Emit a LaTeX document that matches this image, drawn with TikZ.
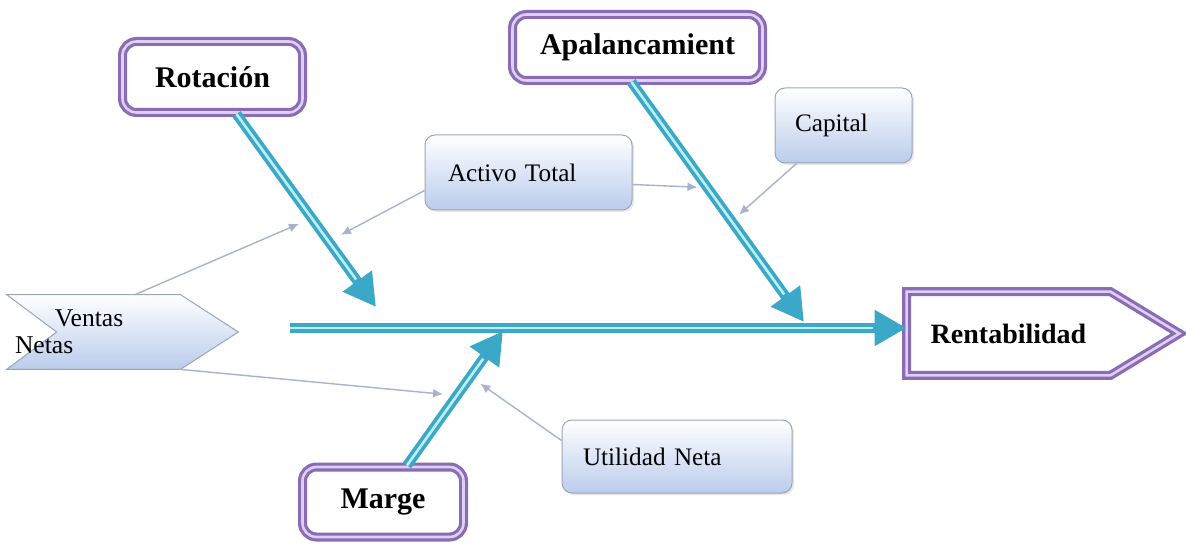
\documentclass[tikz,border=0pt]{standalone}
\usepackage{fontspec}
\setmainfont{Liberation Serif}
\usetikzlibrary{arrows.meta,shadows,calc,backgrounds}
\definecolor{teal1}{RGB}{58,168,198}
\definecolor{stripec}{RGB}{190,238,246}
\definecolor{purp}{RGB}{138,108,182}
\definecolor{lav}{RGB}{222,208,240}
\definecolor{boxgray}{RGB}{155,165,185}
\definecolor{boxblue}{RGB}{186,204,236}
\definecolor{conn}{RGB}{168,178,206}
\begin{document}
\begin{tikzpicture}[x=0.5pt,y=-0.5pt,
  catbox/.style={draw=purp, line width=1.6pt, double=lav, double distance=1.3pt,
    fill=white, rounded corners=7pt, inner sep=0pt,
    font=\bfseries\fontsize{15}{18}\selectfont},
  catline/.style={draw=purp, line width=1.6pt, double=lav, double distance=1.3pt, fill=white},
  smallbox/.style={draw=boxgray, line width=0.5pt, top color=white, bottom color=boxblue,
    rounded corners=5pt, drop shadow={opacity=0.18, shadow xshift=1pt, shadow yshift=-1pt},
    font=\fontsize{12.6}{14}\selectfont, align=left},
  bone/.style={teal1, line width=5pt, -{Triangle[length=16pt,width=17pt]}},
  bonestripe/.style={stripec, line width=1.3pt, shorten >=17pt},
  feed/.style={conn, line width=0.7pt, -{Latex[length=5pt,width=4.5pt]}, shorten >=2pt}]
\useasboundingbox (0,0) rectangle (1186,544);

% category boxes
\node[catbox, minimum width=90pt, minimum height=35.5pt] (rot) at (212.5,77) {Rotación};
\node[catbox, minimum width=125pt, minimum height=33pt] (apal) at (637.5,47.5) {Apalancamient};
\node[catbox, minimum width=80.5pt, minimum height=35pt] (marge) at (383,502) {Marge};

% Rentabilidad (head)
\node[inner sep=0pt, minimum width=101.5pt, minimum height=41.5pt,
  font=\bfseries\fontsize{14}{16}\selectfont] (rent) at (1008.5,333.5) {Rentabilidad};
\begin{scope}[on background layer]
\draw[catline] (rent.north west) -- (rent.north east) -- ($(rent.east)+(69,0)$)
  -- (rent.south east) -- (rent.south west) -- cycle;
\end{scope}

% small boxes
\node[smallbox, minimum width=103.5pt, minimum height=37.5pt, text width=80.5pt,
  inner xsep=11.5pt] (act) at (528.5,172.5) {Activo Total};
\node[smallbox, minimum width=68.5pt, minimum height=37.5pt, text width=48.5pt,
  inner xsep=10pt] (cap) at (843.5,125.5) {Capital};
\node[smallbox, minimum width=115pt, minimum height=36.5pt, text width=94pt,
  inner xsep=10.5pt] (util) at (677,456.5) {Utilidad Neta};

% Ventas Netas (chevron)
\node[inner xsep=4pt, inner ysep=0pt, minimum width=86.5pt, minimum height=37pt,
  text width=78.5pt, align=left, font=\fontsize{12.8}{13.5}\selectfont]
  (ventas) at (93.5,332) {\hspace*{20pt}Ventas\\Netas};
\begin{scope}[on background layer]
\draw[boxgray, line width=0.5pt, top color=white, bottom color=boxblue]
  (ventas.north west) -- (ventas.north east) -- ($(ventas.east)+(58,0)$)
  -- (ventas.south east) -- (ventas.south west) -- ($(ventas.west)+(50,0)$) -- cycle;
\end{scope}

% spine and bones
\coordinate (spinestart) at (290,328);
\coordinate (spineend) at (spinestart -| rent.west);
\coordinate (rotstart) at ($(rot.south)+(24,0)$);
\coordinate (rotend) at (376,307);
\coordinate (apalstart) at ($(apal.south)+(-6,0)$);
\coordinate (apalend) at (804,322);
\coordinate (margestart) at ($(marge.north)+(24,0)$);
\coordinate (margeend) at (503,331);

\draw[bone] (spinestart) -- (spineend);
\draw[bonestripe] (spinestart) -- (spineend);
\draw[bone] (rotstart) -- (rotend);
\draw[bonestripe] (rotstart) -- (rotend);
\draw[bone] (apalstart) -- (apalend);
\draw[bonestripe] (apalstart) -- (apalend);
\draw[bone] (margestart) -- (margeend);
\draw[bonestripe] (margestart) -- (margeend);

% feeding connectors
\coordinate (rotA) at ($(rotstart)!0.54!(rotend)$);
\coordinate (rotB) at ($(rotstart)!0.66!(rotend)$);
\coordinate (apalA) at ($(apalstart)!0.44!(apalend)$);
\coordinate (apalB) at ($(apalstart)!0.58!(apalend)$);
\coordinate (margeA) at ($(margestart)!0.52!(margeend)$);
\coordinate (margeB) at ($(margestart)!0.66!(margeend)$);

\draw[feed, shorten >=7pt] ($(ventas.north)+(41.5,0)$) -- (rotA);
\draw[feed, shorten >=7pt] ($(act.west)+(0,18)$) -- (rotB);
\draw[feed, shorten >=5pt] ($(act.east)+(0,12)$) -- (apalA);
\draw[feed, shorten >=5pt] ($(cap.south west)+(22,0)$) -- (apalB);
\draw[feed, shorten >=7pt] (ventas.south east) -- (margeA);
\draw[feed, shorten >=6pt] ($(util.west)+(0,-16)$) -- (margeB);
\end{tikzpicture}
\end{document}
